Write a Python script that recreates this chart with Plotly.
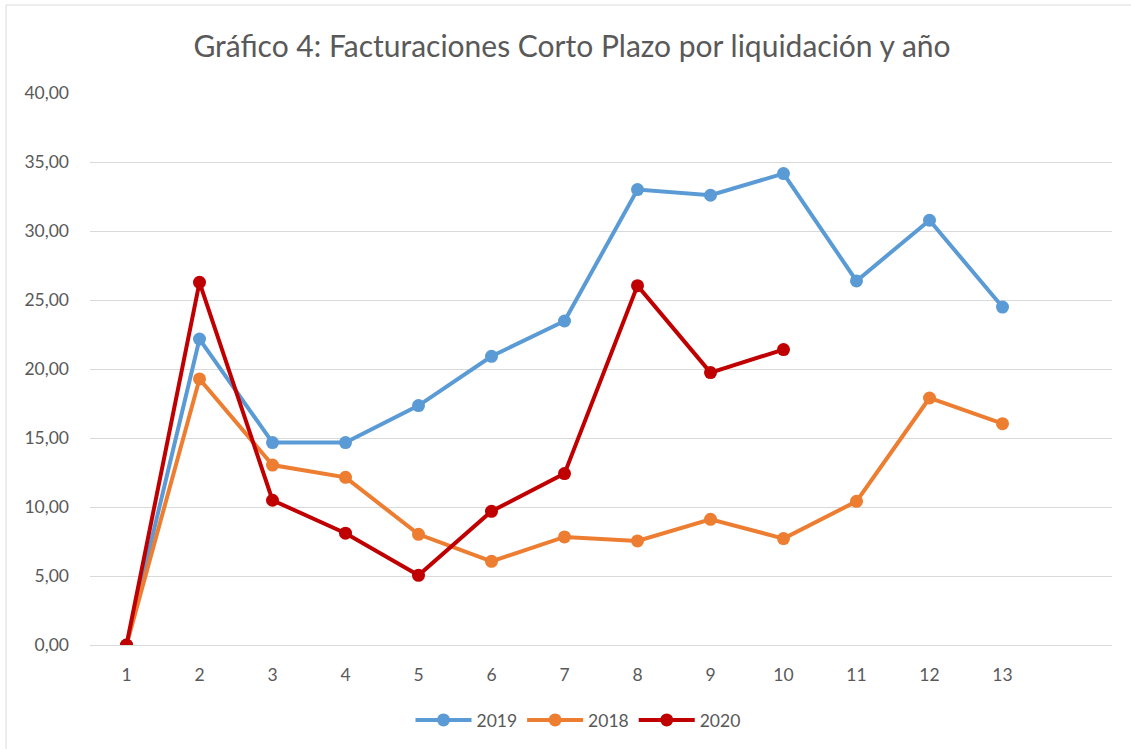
import plotly.graph_objects as go

categories = list(range(1, 14))
tick_labels = [str(c) for c in categories]
values_2019 = [0, 22.17, 14.67, 14.67, 17.35, 20.92, 23.48, 33.0, 32.59, 34.16, 26.38, 30.78, 24.49]
values_2018 = [0, 19.28, 13.04, 12.15, 8.02, 6.06, 7.83, 7.54, 9.11, 7.71, 10.41, 17.9, 16.04]
values_2020 = [0, 26.28, 10.49, 8.10, 5.05, 9.69, 12.42, 26.04, 19.74, 21.41]

series = [
    ("2019", values_2019, "#5B9BD5"),
    ("2018", values_2018, "#ED7D31"),
    ("2020", values_2020, "#C00000"),
]

fig = go.Figure()
for name, vals, color in series:
    fig.add_trace(go.Scatter(
        x=categories[:len(vals)], y=vals, name=name, mode="lines+markers",
        line=dict(color=color, width=4), marker=dict(color=color, size=13),
    ))

font_family = "Lato, Open Sans, sans-serif"
fig.update_layout(
    width=1131, height=749,
    paper_bgcolor="white", plot_bgcolor="white",
    margin=dict(l=90, r=19, t=93, b=104),
    separators=",.",
    font=dict(family=font_family, color="#595959", size=17),
    title=dict(text="Gráfico 4: Facturaciones Corto Plazo por liquidación y año",
               x=572 / 1131, xanchor="center", xref="container",
               y=1 - 46 / 749, yanchor="middle", yref="container",
               font=dict(size=30, color="#595959", family=font_family)),
    showlegend=True,
    legend=dict(orientation="h", xref="container", yref="container",
                x=578 / 1131, xanchor="center", y=1 - 720 / 749, yanchor="middle",
                font=dict(size=17.5, color="#595959"), itemwidth=56),
    xaxis=dict(range=[0.5, 14.5], tickvals=categories, ticktext=tick_labels,
               showgrid=False, zeroline=False, showline=False, ticks="",
               ticklabelstandoff=17, tickfont=dict(size=17.5, color="#595959")),
    yaxis=dict(range=[0, 40], dtick=5, tickformat=".2f", showgrid=True,
               gridcolor="#D9D9D9", gridwidth=1, zeroline=True, zerolinecolor="#D9D9D9",
               zerolinewidth=1, showline=False, ticks="", ticklabelstandoff=20,
               tickfont=dict(size=17.5, color="#595959")),
    shapes=[dict(type="rect", xref="paper", yref="paper", x0=(6 - 90) / 1022, x1=1.1,
                 y0=-0.4, y1=1 + (93 - 5) / 552, line=dict(color="#D9D9D9", width=1),
                 fillcolor="rgba(0,0,0,0)", layer="below")],
)

fig.write_html("out.html", config={"displayModeBar": False},
               post_script="document.body.style.margin='0';document.body.style.overflow='hidden';")
